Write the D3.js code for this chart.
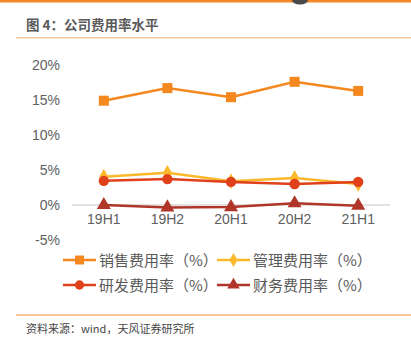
<!DOCTYPE html>
<html><head><meta charset="utf-8">
<script src="https://cdn.jsdelivr.net/npm/d3@7"></script>
<style>body{margin:0;background:#fff}svg{display:block}</style>
</head><body><svg id="c" width="411" height="344"></svg>
<script>
const categories = ["19H1","19H2","20H1","20H2","21H1"];
const seriesNames = ["销售费用率（%）","管理费用率（%）","研发费用率（%）","财务费用率（%）"];
const sales = [14.9, 16.7, 15.4, 17.6, 16.3];
const admin = [4.05, 4.6, 3.4, 3.85, 3.0];
const rnd = [3.45, 3.7, 3.3, 3.0, 3.3];
const fin = [0.0, -0.35, -0.3, 0.25, -0.1];
const yTicks = [-5, 0, 5, 10, 15, 20];
const colors = ["#f5871f", "#fbb82a", "#e0401a", "#b0362a"];
const symbols = [d3.symbolSquare, d3.symbolDiamond, d3.symbolCircle, d3.symbolTriangle];
const allSeries = [sales, admin, rnd, fin];

const svg = d3.select("#c");
const cjk = "'Noto Sans CJK SC','Noto Sans',sans-serif";
const lat = "'Liberation Sans',Arial,sans-serif";

// top decoration
svg.append("rect").attr("x",0).attr("y",0).attr("width",411).attr("height",2.5).attr("fill","#f5872a");
svg.append("ellipse").attr("cx",300).attr("cy",0).attr("rx",8).attr("ry",4.5).attr("fill","#4a4a4a");

svg.append("text").attr("x",26).attr("y",30).attr("font-family",cjk).attr("font-size",13.5)
  .attr("font-weight","bold").attr("fill","#5a5a5a").text("图 4：公司费用率水平");
svg.append("rect").attr("x",16).attr("y",37).attr("width",395).attr("height",1.5).attr("fill","#f8c9a0");

const x = d3.scaleBand().domain(categories).range([72, 390]);
const y = d3.scaleLinear().domain([-5, 20]).range([240, 65]);

// zero axis line
svg.append("line").attr("x1",72).attr("x2",390).attr("y1",y(0)).attr("y2",y(0))
  .attr("stroke","#d9d9d9").attr("stroke-width",1.5);

const yAxis = d3.axisLeft(y).tickValues(yTicks).tickSize(0).tickPadding(0).tickFormat(d => d + "%");
const ga = svg.append("g").attr("transform","translate(60,0)").call(yAxis);
ga.select(".domain").remove();
ga.selectAll("text").attr("font-family",lat).attr("font-size",14).attr("fill","#606060");

const xAxis = d3.axisBottom(x).tickSize(0).tickPadding(0);
const gx = svg.append("g").attr("transform",`translate(0,${y(0)+9})`).call(xAxis);
gx.select(".domain").remove();
gx.selectAll("text").attr("font-family",lat).attr("font-size",14).attr("fill","#606060").attr("dy","0.71em");

const cx = d => x(d) + x.bandwidth()/2;
const symSize = [100, 70, 85, 85];
allSeries.forEach((vals, i) => {
  const line = d3.line().x((d,j) => cx(categories[j])).y(d => y(d));
  svg.append("path").datum(vals).attr("d", line).attr("fill","none")
    .attr("stroke", colors[i]).attr("stroke-width", 2.5);
  svg.append("g").selectAll("path").data(vals).join("path")
    .attr("transform",(d,j) => `translate(${cx(categories[j])},${y(d)})`)
    .attr("d", d3.symbol().type(symbols[i]).size(symSize[i]))
    .attr("fill", colors[i]);
});

// legend
const legPos = [[63,260],[217,260],[63,285],[217,285]];
seriesNames.forEach((name, i) => {
  const [lx, ly] = legPos[i];
  const g = svg.append("g").attr("transform",`translate(${lx},${ly})`);
  g.append("line").attr("x1",0).attr("x2",33).attr("y1",0).attr("y2",0)
    .attr("stroke",colors[i]).attr("stroke-width",2.5);
  g.append("path").attr("transform","translate(16.5,0)")
    .attr("d", d3.symbol().type(symbols[i]).size(symSize[i]*0.8)).attr("fill",colors[i]);
  g.append("text").attr("x",36).attr("y",5.5).attr("font-family",cjk).attr("font-size",15)
    .attr("fill","#595959").text(name);
});

// footer
svg.append("rect").attr("x",16).attr("y",314.5).attr("width",395).attr("height",1.2).attr("fill","#f0a55e");
svg.append("text").attr("x",26).attr("y",333).attr("font-family",cjk).attr("font-size",11)
  .attr("fill","#444").text("资料来源：wind，天风证券研究所");
</script></body></html>
